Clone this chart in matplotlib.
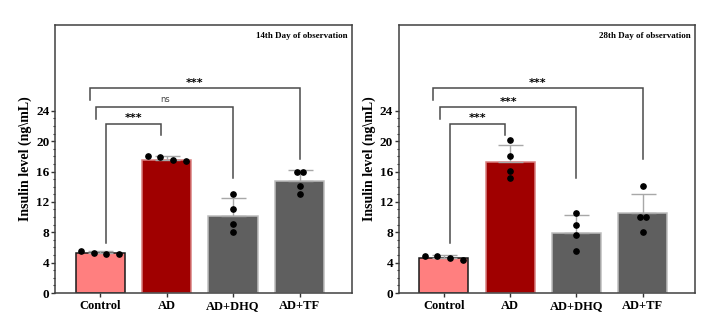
import matplotlib
matplotlib.use("Agg")
import matplotlib.pyplot as plt
import numpy as np

plt.rcParams['font.family'] = ['Liberation Serif', 'DejaVu Serif']

categories = ["Control", "AD", "AD+DHQ", "AD+TF"]

# Day 14
d14_means = [5.3, 17.55, 10.1, 14.75]
d14_sd = [0.2, 0.45, 2.45, 1.5]
d14_points = [[5.5, 5.3, 5.2, 5.1],
              [18.05, 17.85, 17.55, 17.45],
              [13.0, 11.0, 9.1, 8.0],
              [16.0, 15.95, 14.1, 13.0]]
d14_labels = ["***", "ns", "***"]
d14_title = "14th Day of observation"

# Day 28
d28_means = [4.65, 17.2, 7.95, 10.5]
d28_sd = [0.3, 2.3, 2.3, 2.5]
d28_points = [[4.9, 4.85, 4.55, 4.4],
              [20.1, 18.05, 16.1, 15.1],
              [10.5, 8.9, 7.65, 5.5],
              [14.05, 10.05, 10.0, 8.0]]
d28_labels = ["***", "***", "***"]
d28_title = "28th Day of observation"

yticks = [0, 4, 8, 12, 16, 20, 24]
ylabel = "Insulin level (ng\\mL)"

# bracket comparisons: (group a, group b), bar height
comparisons = [(0, 1), (0, 2), (0, 3)]
bracket_heights = [22.3, 24.45, 26.95]

# style
bar_colors = ["#FF7F7F", "#A00000", "#5F5F5F", "#5F5F5F"]
edge_colors = ["#1a1a1a", "#d98080", "#bdbdbd", "#bdbdbd"]
left_leg_dx = [0.09, -0.06, -0.16]
right_leg_dx = [-0.08, 0.0, 0.0]
left_leg_bottom = [6.6, 22.9, 25.4]
right_leg_bottom = [20.75, 15.2, 17.7]

W, H = 724, 321
fig = plt.figure(figsize=(W / 100, H / 100), dpi=100)


def swarm_offsets(vals):
    order = np.argsort(vals)[::-1]
    sv = [vals[i] for i in order]
    clusters = [[order[0]]]
    for k in range(1, len(sv)):
        if sv[k - 1] - sv[k] < 0.45:
            clusters[-1].append(order[k])
        else:
            clusters.append([order[k]])
    offs = np.zeros(len(vals))
    for c in clusters:
        n = len(c)
        step = 0.19 if n >= 3 else 0.09
        for j, idx in enumerate(c):
            offs[idx] = (j - (n - 1) / 2) * step
    return offs


def panel(rect, means, sds, points, labels, title):
    ax = fig.add_axes(rect)
    x = np.arange(len(categories))
    ax.bar(x, means, width=0.74, color=bar_colors, edgecolor=edge_colors,
           linewidth=1.1, zorder=2)
    ax.errorbar(x, means, yerr=[np.zeros(len(sds)), sds], fmt='none',
                ecolor="#a8a8a8", elinewidth=1.0, capsize=9, capthick=1.0,
                zorder=3)
    for i, pts in enumerate(points):
        offs = swarm_offsets(pts)
        ax.plot(x[i] + offs, pts, 'o', color='black', markersize=3.8,
                zorder=4, linestyle='none')
    for k, ((a, b), h) in enumerate(zip(comparisons, bracket_heights)):
        xa = a + left_leg_dx[k]
        xb = b + right_leg_dx[k]
        ax.plot([xa, xa, xb, xb], [left_leg_bottom[k], h, h, right_leg_bottom[k]],
                color="#4a4a4a", lw=1.1, zorder=1, solid_joinstyle='miter')
        lab = labels[k]
        if lab == "ns":
            ax.text((xa + xb) / 2, h + 0.45, lab, ha='center', va='bottom',
                    fontsize=6, color='#444444', family='DejaVu Sans')
        else:
            ax.text((xa + xb) / 2, h + 0.05, lab, ha='center', va='bottom',
                    fontsize=8, fontweight='bold', color='black',
                    family='DejaVu Sans')
    ax.set_xlim(-0.68, 3.79)
    ax.set_ylim(0, 35.3)
    ax.set_yticks(yticks)
    ax.set_yticks(np.arange(0, 25, 1), minor=True)
    ax.set_xticks(x)
    ax.set_xticklabels(categories, fontsize=9, fontweight='bold')
    for t in ax.get_yticklabels():
        t.set_fontsize(9.5)
        t.set_fontweight('bold')
    ax.tick_params(axis='y', which='major', length=3, width=1, pad=1, color='#333333')
    ax.tick_params(axis='y', which='minor', length=1.5, width=0.8, color='#333333')
    ax.tick_params(axis='x', length=3, width=1, pad=2, color='#333333')
    for s in ax.spines.values():
        s.set_color('#404040')
        s.set_linewidth(1.1)
    ax.set_ylabel(ylabel, fontsize=10, fontweight='bold', labelpad=3)
    ax.text(0.985, 0.975, title, transform=ax.transAxes, ha='right', va='top',
            fontsize=6.5, fontweight='bold')
    return ax


def rect_px(l, r, t, b):
    return [l / W, (H - b) / H, (r - l) / W, (b - t) / H]

panel(rect_px(55, 352, 25, 293), d14_means, d14_sd, d14_points, d14_labels, d14_title)
panel(rect_px(398.7, 695, 25, 293), d28_means, d28_sd, d28_points, d28_labels, d28_title)

fig.savefig("out.png", dpi=100)
